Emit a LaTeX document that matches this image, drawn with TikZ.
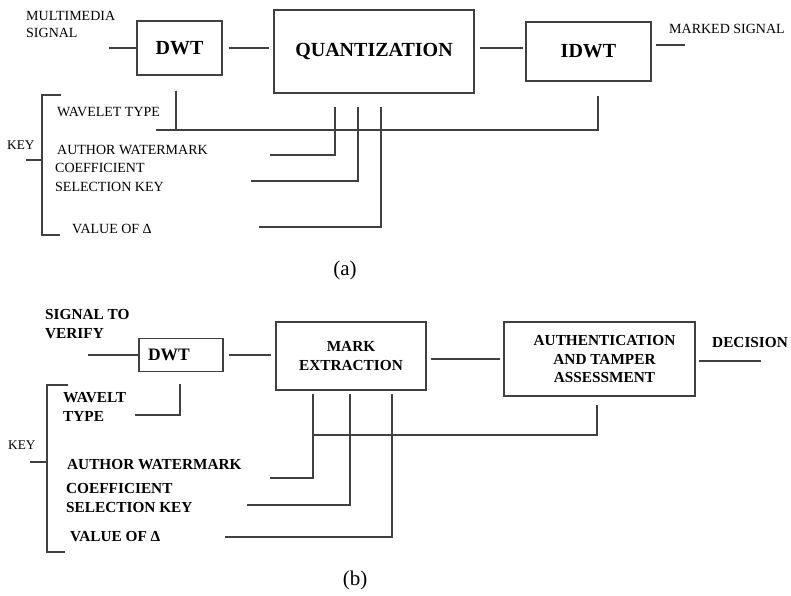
\documentclass[tikz,border=0pt]{standalone}
\usepackage{fontspec}
\setmainfont{Liberation Serif}
\usetikzlibrary{positioning, calc}

\begin{document}
\begin{tikzpicture}[
  x=1pt, y=-1pt,
  blockA/.style  = {rectangle, draw=black!75, line width=1.3pt, inner sep=0pt,
                    font=\fontsize{20}{24}\selectfont\bfseries},
  blockB/.style  = {rectangle, draw=black!75, line width=1.3pt, inner sep=0pt,
                    align=center, font=\fontsize{15.3}{18.5}\selectfont\bfseries},
  lblA/.style    = {anchor=west, inner sep=0pt, align=left,
                    font=\fontsize{14}{#1}\selectfont},
  lblA/.default  = 17,
  lblB/.style    = {anchor=west, inner sep=0pt, align=left,
                    font=\fontsize{15.3}{19}\selectfont\bfseries},
  lblKey/.style  = {anchor=west, inner sep=0pt, font=\fontsize{13.3}{16}\selectfont},
  caption/.style = {inner sep=0pt, font=\fontsize{21}{24}\selectfont},
  wire/.style    = {line width=1.3pt, color=black!75},
]

\useasboundingbox (0,0) rectangle (791,595);

%% ---------------- (a) embedding ----------------
\node[blockA, minimum width=85pt,  minimum height=54pt] (dwtA)   at (179.5,48) {DWT};
\node[blockA, minimum width=200pt, minimum height=83pt] (quantA) at (374,51.5) {QUANTIZATION};
\node[blockA, minimum width=125pt, minimum height=59pt] (idwtA)  at (588.5,51.5) {IDWT};

\node[lblA] (inA)  at (26,24.5) {MULTIMEDIA\\SIGNAL};
\node[lblA] (outA) at (669,29)  {MARKED SIGNAL};
\node[lblA] (wavA) at (57,112)  {WAVELET TYPE};
\node[lblA] (autA) at (57,150)  {AUTHOR WATERMARK};
\node[lblA=19] (coeA) at (55,177.5) {COEFFICIENT\\SELECTION KEY};
\node[lblA] (valA) at (72,229)  {VALUE OF Δ};
\node[lblKey] (keyA) at (7,145) {KEY};
\node[caption] (capA) at (345,270) {(a)};

%% signal path
\coordinate (inA-end)  at (109,48);
\coordinate (outA-end) at (685,45);
\draw[wire] (inA-end) -- (dwtA.west |- inA-end);
\draw[wire, shorten <=6pt, shorten >=4pt] (dwtA.east) -- (quantA.west |- dwtA.east);
\draw[wire, shorten <=5pt, shorten >=2pt] (quantA.east |- dwtA.east) -- (idwtA.west |- dwtA.east);
\draw[wire, shorten <=4pt] (idwtA.east |- outA-end) -- (outA-end);

%% key inputs
\coordinate (busA) at (156,130);
\draw[wire, shorten <=15pt] ([xshift=-3.5pt]dwtA.south) -- ([xshift=-3.5pt]dwtA.south |- busA);
\draw[wire] (busA) -| ($(idwtA.south)+(9.5,14)$);

\coordinate (keyAutA) at (270,155);
\coordinate (keyCoeA) at (251,181);
\coordinate (keyValA) at (259,227);
\foreach \dx/\k in {-39/keyAutA, -16/keyCoeA, 7/keyValA}
  \draw[wire, shorten <=13pt] ([xshift=\dx pt]quantA.south) |- (\k);

%% key bracket
\coordinate (brA-top) at (42,95);
\coordinate (brA-bot) at (42,235);
\coordinate (brA-mid) at (42,160);
\draw[wire] ([xshift=19pt]brA-top) -- (brA-top) -- (brA-bot) -- ++(18,0);
\draw[wire] (brA-mid) -- ++(-16,0);

%% ---------------- (b) verification ----------------
\node[blockB, minimum width=84pt,  minimum height=33pt,
      font=\fontsize{17.5}{20}\selectfont\bfseries] (dwtB) at (181,355) {DWT\hspace*{24pt}};
\node[blockB, minimum width=150pt, minimum height=68pt] (extrB) at (351,356)
  {MARK\\EXTRACTION};
\node[blockB, minimum width=191pt, minimum height=74pt] (authB) at (599.5,359)
  {\hspace*{10pt}AUTHENTICATION\\\hspace*{10pt}AND TAMPER\\\hspace*{10pt}ASSESSMENT};

\node[lblB] (inB)  at (45,324.5) {SIGNAL TO\\VERIFY};
\node[lblB] (outB) at (712,342)  {DECISION};
\node[lblB] (wavB) at (63,407)   {WAVELT\\TYPE};
\node[lblB] (autB) at (67,465)   {AUTHOR WATERMARK};
\node[lblB] (coeB) at (66,498)   {COEFFICIENT\\SELECTION KEY};
\node[lblB] (valB) at (70,537)   {VALUE OF Δ};
\node[lblKey] (keyB) at (8,445)  {KEY};
\node[caption] (capB) at (355,580) {(b)};

%% signal path
\coordinate (inB-end)  at (88,355);
\coordinate (outB-end) at (761,361);
\draw[wire] (inB-end) -- (dwtB.west |- inB-end);
\draw[wire, shorten <=5pt, shorten >=4pt] (dwtB.east) -- (extrB.west |- dwtB.east);
\draw[wire, shorten <=4pt, shorten >=3pt] (extrB.east |- authB.west) -- (authB.west);
\draw[wire, shorten <=3pt] (authB.east |- outB-end) -- (outB-end);

%% key inputs
\coordinate (keyWavB) at (135,415);
\draw[wire, shorten <=12pt] ([xshift=-1pt]dwtB.south) |- (keyWavB);

\coordinate (keyAutB) at (270,478);
\coordinate (keyCoeB) at (247,505);
\coordinate (keyValB) at (225,537);
\foreach \dx/\k in {-38/keyAutB, -1/keyCoeB, 41/keyValB}
  \draw[wire, shorten <=3pt] ([xshift=\dx pt]extrB.south) |- (\k);

\coordinate (busB) at (313,435);
\draw[wire] (busB) -| ($(authB.south)+(-2.5,8)$);

%% key bracket
\coordinate (brB-top) at (47,385);
\coordinate (brB-bot) at (47,552);
\coordinate (brB-mid) at (47,462);
\draw[wire] ([xshift=21pt]brB-top) -- (brB-top) -- (brB-bot) -- ++(18,0);
\draw[wire] (brB-mid) -- ++(-17,0);

\end{tikzpicture}
\end{document}
